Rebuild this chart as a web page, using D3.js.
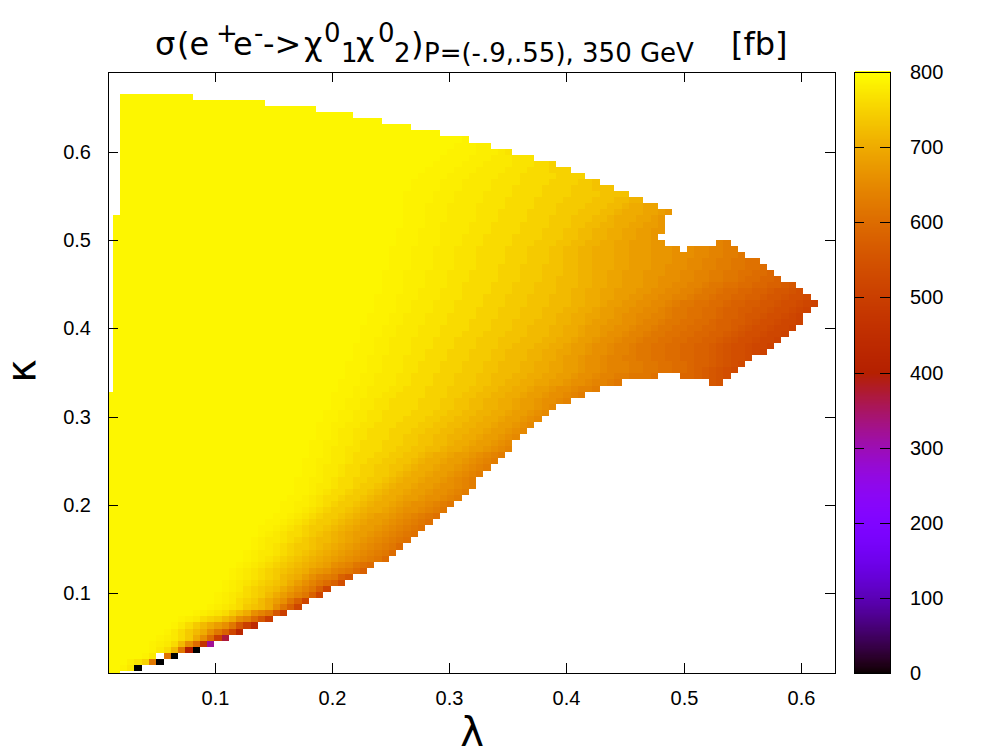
<!DOCTYPE html>
<html><head><meta charset="utf-8">
<script src="https://cdn.jsdelivr.net/npm/d3@7"></script>
<style>
html,body{margin:0;padding:0;background:#fff}
svg{display:block}
.tick text{font-family:"Liberation Sans",Arial,sans-serif;font-size:20px;fill:#000}
</style></head><body>
<svg id="c" width="1000" height="750"></svg>
<script>
// Grid
const lambdaStart = 0.01, lambdaStep = 0.0062;
const kappaStart = 0.0088, kappaStep = 0.006873;
const lambdaDomain = [0.01, 0.63];
const kappaDomain = [0.01, 0.69];
const lambdaTicks = [0.1, 0.2, 0.3, 0.4, 0.5, 0.6];
const kappaTicks = [0.1, 0.2, 0.3, 0.4, 0.5, 0.6];
const sigmaTicks = [0, 100, 200, 300, 400, 500, 600, 700, 800];
const sigmaDomain = [0, 800];

// Value bands of the cross section [fb]
const levels = [790,786,782,776,770,760,750,740,730,720,710,700,690,680,670,660,650,640,630,620,610,600,590,580,570,560,550,540,530,520,510,500,490];

// For each kappa row: first and last filled lambda column
const rowStarts = [0,0,0,0,0,0,0,0,0,0,0,0,0,0,0,0,0,0,0,0,0,0,0,0,0,0,0,0,0,0,0,0,0,0,0,0,0,0,0,0,0,0,0,0,0,0,0,
  1,1,1,1,1,1,1,1,1,1,1,1,1,1,1,1,1,1,1,1,1,1,1,1,1,1,1,1,1,
  2,2,2,2,2,2,2,2,2,2,2,2,2,2,2,2,2,2,2,2];
const rowEnds = [1,4,7,9,12,14,16,18,20,22,24,26,27,29,30,32,33,35,36,38,39,40,41,42,43,44,45,46,47,48,49,50,50,51,52,53,54,55,55,56,57,58,59,60,61,63,65,67,84,85,86,87,88,90,91,92,93,94,95,95,96,97,96,95,94,92,91,90,89,87,86,85,75,76,76,76,77,75,73,71,69,67,65,63,61,58,55,52,49,45,41,37,33,28,21,11];
// Empty stretches inside a row: [row, firstCol, lastCol]
const rowGaps = [[3,7,7],[48,71,82],[49,76,78],[70,79,79],[71,77,83]];

// For each row: last column that still reaches each value band, in band order
const rowBreaks = [
[99],
[1,2,2,3,3],
[2,2,3,3,4,4,5,5,5,5,5,5,5,5,5,5,5,5,5,6,6],
[4,5,5,6,6,6,6,6,6,6,6,6,6,6,6,6,6,6,6,7,8],
[5,6,6,7,7,8,8,8,8,9,9,9,9,9,9,9,9,9,9,10,10],
[5,6,7,8,8,9,9,9,9,10,10,10,10,10,10,11,11,11,11,11,11,12,12],
[6,7,8,9,9,10,10,11,11,11,11,12,12,12,12,13,13,13,13,13,13,14,14,14,14,14,14,14,14,14,14,15,15],
[7,8,8,9,9,10,10,11,11,12,12,13,13,13,13,14,14,14,14,15,15,15,15,16,16,16,16,16,16,17,17],
[8,9,9,10,10,11,11,12,12,13,13,14,14,15,15,16,16,16,16,17,17,17,17,17,17,18,18,18,18,18,18,19,19],
[9,10,11,12,12,13,14,15,15,16,16,17,17,17,17,18,18,19,19,19,19,20,20,20,20,21,21,21,21,21,21,22,22],
[11,12,13,14,15,16,16,17,17,18,18,19,19,19,19,20,20,21,21,22,22,22,22,22,22,23,23,23,23,23,23,24,24],
[13,14,15,16,17,18,18,19,20,21,21,22,22,22,22,23,23,23,23,24,24,24,24,25,25,25,25,25,25,26,26],
[14,15,16,17,17,18,19,20,20,21,21,22,22,23,23,24,24,24,24,25,25,25,25,26,26,26,26,26,26,27,27],
[14,15,16,17,18,19,20,21,21,22,22,23,23,24,24,25,25,26,26,27,27,27,27,28,28,28,28,28,28,29,29],
[15,16,17,18,18,19,20,21,22,23,23,24,24,25,25,26,26,27,27,28,28,28,28,29,29,29,29,29,29,30,30],
[15,16,17,18,19,20,21,22,23,24,24,25,25,26,26,27,27,28,28,29,29,30,30,31,31,31,31,32,32],
[16,17,18,19,20,21,22,23,23,24,25,26,26,27,27,28,28,29,30,31,31,31,31,32,32,33,33],
[16,17,18,19,20,21,22,23,24,25,26,27,27,28,29,30,30,31,32,33,33,34,34,35,35],
[17,18,19,20,21,22,23,24,25,26,27,28,29,30,30,31,32,33,33,34,35,36,36],
[18,19,20,21,22,23,24,25,26,27,28,29,30,31,32,33,34,35,36,37,37,38,38],
[18,19,20,22,23,24,25,26,27,28,29,30,31,32,33,34,35,36,37,38,38,39,39],
[19,20,21,22,23,24,25,27,28,29,30,31,32,33,34,35,36,37,38,39,39,40,40],
[19,20,21,23,24,25,26,27,28,30,31,32,33,34,35,36,37,38,39,40,41],
[20,21,22,23,24,26,27,28,29,30,31,32,33,35,36,37,38,39,40,41,42],
[20,22,23,24,25,26,27,29,30,31,32,33,34,36,37,38,39,40,41,42,43],
[21,23,24,25,26,27,28,30,31,32,33,34,35,37,38,39,40,41,42,43,44],
[22,24,25,26,27,28,29,31,32,33,34,35,36,38,39,40,41,42,43,44,45],
[23,25,26,27,28,29,30,32,33,34,35,37,38,39,40,42,43,44,45,46,46],
[23,25,27,28,29,30,31,33,34,35,36,38,39,40,41,43,44,45,46,47,47],
[24,26,27,28,29,31,32,34,35,36,37,39,40,42,43,45,46,47,48],
[25,27,28,29,30,32,33,35,36,37,38,40,41,43,44,46,47,48,49],
[25,27,28,30,31,33,34,36,37,38,39,41,42,44,45,47,48,49,50],
[25,27,29,30,31,33,35,37,38,39,40,42,43,45,46,47,48,49,50],
[26,28,29,31,32,34,36,38,39,40,41,43,44,46,47,48,49,50,51],
[26,28,29,31,32,34,36,38,40,41,42,44,45,47,48,49,50,51,52],
[26,28,30,32,33,35,37,39,41,42,43,45,46,48,49,50,51,52,53],
[27,29,30,32,33,36,38,40,42,43,44,46,47,49,50,51,52,53,54],
[27,29,30,32,34,37,39,41,43,45,46,48,49,51,52,53,54,55,55],
[27,29,31,33,34,37,40,42,44,46,47,49,50,52,53,54,55],
[28,30,31,33,35,38,40,42,44,46,48,50,51,53,54,55,56],
[28,30,31,33,35,38,41,43,45,47,49,51,52,54,55,56,57],
[28,30,32,34,36,39,42,44,46,48,50,52,53,55,56,57,58],
[29,31,33,35,37,40,43,45,47,49,51,53,54,56,57,58,59],
[29,31,33,35,37,41,44,46,48,50,52,54,55,57,58,59,60],
[30,32,34,36,38,42,45,47,49,51,53,55,56,58,59,60,61],
[30,32,34,36,38,42,45,47,49,51,53,55,56,58,59,61,62,63,63],
[30,33,35,37,39,43,46,48,50,52,54,56,57,59,60,62,63,64,65],
[31,33,35,38,40,43,46,49,51,53,55,57,58,60,61,63,64,66,67],
[31,34,36,39,41,44,47,50,52,54,56,58,60,62,63,65,66,68,69,73,76,78,80,81,82,83,84],
[32,34,36,39,41,44,47,50,52,55,57,59,61,63,64,66,67,69,71,74,76,78,80,81,82,83,84,85,85],
[32,35,37,40,42,45,48,51,53,56,58,60,62,64,65,67,68,71,73,75,77,79,80,81,82,83,84,85,86],
[32,35,37,40,42,45,48,51,53,56,58,60,62,64,65,67,68,71,73,75,77,79,80,82,83,84,85,86,87],
[33,35,37,40,43,46,49,52,54,57,59,61,62,64,65,67,68,70,72,74,76,78,80,82,83,84,85,87,88],
[33,36,38,41,43,46,49,52,54,57,59,61,63,65,66,68,69,71,72,74,76,78,80,82,83,84,85,87,88,89,90],
[33,36,38,41,44,47,50,53,55,58,60,62,63,65,66,68,69,71,72,74,76,78,80,82,83,84,85,87,88,90,91],
[34,36,38,41,44,47,50,53,56,59,61,63,64,66,67,69,70,72,73,75,77,79,81,83,84,85,86,88,89,91,92],
[34,37,39,42,45,48,51,54,57,60,62,64,65,67,68,70,71,73,74,76,78,80,82,84,85,86,87,89,90,92,93],
[34,37,39,42,45,49,52,55,57,60,62,64,65,67,69,71,72,74,75,77,79,81,83,85,86,87,88,90,91,93,94],
[35,38,40,43,46,49,52,55,58,61,63,65,66,68,70,72,73,75,76,78,80,82,83,85,87,88,89,91,92,94,95],
[35,38,40,43,46,50,53,56,59,61,63,65,67,69,70,72,74,76,77,79,81,83,84,86,87,89,90,92,93,94,95],
[36,39,41,44,47,50,53,56,59,62,64,66,67,69,71,73,75,76,77,79,81,83,84,86,88,90,91,93,94,95,96],
[36,39,41,44,47,51,54,57,60,63,65,67,68,70,72,74,76,77,78,80,82,84,85,87,89,91,92,94,95,96,97],
[36,39,42,45,48,51,54,57,60,63,65,67,69,71,73,75,77,79,80,82,83,85,87,89,90,92,93,95,96],
[37,40,42,45,48,52,55,58,61,63,65,67,69,72,74,76,78,80,81,83,84,86,88,90,91,93,94,95,95],
[37,40,43,46,48,52,55,58,61,64,66,68,70,73,75,77,79,81,82,84,86,88,90,92,93,94,94],
[37,40,43,46,49,53,56,59,61,64,66,68,70,73,75,78,80,82,84,86,87,89,91,92,92],
[37,40,43,46,49,53,56,59,62,64,66,68,70,73,76,78,80,82,84,86,88,90,91],
[38,41,44,47,50,53,56,59,62,64,66,69,71,74,76,79,81,83,85,87,89,90,90],
[38,41,44,47,50,54,57,60,62,64,66,69,71,74,77,79,81,83,85,87,89],
[38,41,44,47,50,54,57,60,62,64,66,69,71,74,77,80,82,84,86,87,87],
[38,41,44,47,50,54,57,60,62,64,66,69,71,74,77,80,82,84,86],
[39,42,45,48,51,55,58,61,63,65,67,69,71,74,77,80,83,84,85],
[39,42,45,48,51,55,59,62,64,66,68,70,72,74,75],
[39,42,45,49,52,56,59,62,64,66,68,70,72,74,76],
[40,43,45,49,52,56,60,63,65,67,69,71,73,75,76],
[40,43,46,50,53,57,60,63,66,68,69,72,74,75,76],
[40,43,46,50,53,57,61,64,67,69,70,73,75,76,77],
[40,43,46,50,54,58,61,65,68,70,71,73,75],
[40,44,47,51,54,58,62,66,69,71,73],
[40,44,47,51,55,59,63,67,71],
[41,45,48,52,55,59,63,66,69],
[41,45,48,52,56,60,64,66,67],
[42,46,49,53,56,61,65],
[43,47,50,54,57,60,63],
[44,48,51,55,58,60,61],
[45,49,52,55,58],
[46,50,53,54,55],
[47,50,52],
[48,49,49],
[99],[99],[99],[99],[99],[99],[99]
];

// Single low-value cells on the lower edge: [row, column, value]
const edgeCells = [[1,4,0],[2,7,0],[3,9,0],[4,12,0],[4,11,400],[5,13,470],[5,14,320],[6,16,370],[7,18,430],[8,20,440]];

const svg = d3.select("#c");
const frame = {left:108.5,right:835.5,top:72.5,bottom:673.5};
const x = d3.scaleLinear().domain(lambdaDomain).range([109,836]);
const y = d3.scaleLinear().domain(kappaDomain).range([673,72]);
const color = d3.scaleLinear().domain(sigmaDomain).range([0,1]);

// gnuplot's default pm3d palette (rgbformulae 7,5,15)
function palette(v){
  const t = Math.max(0,Math.min(1,color(v)));
  const r = Math.sqrt(t), g = t*t*t, b = Math.max(0,Math.sin(2*Math.PI*t));
  return d3.rgb(Math.round(r*255),Math.round(g*255),Math.round(b*255)).formatHex();
}

const cells = [];
rowEnds.forEach((end,j)=>{
  const br = rowBreaks[j];
  for(let i=rowStarts[j]; i<=end; i++){
    if(rowGaps.some(g=>g[0]===j && i>=g[1] && i<=g[2])) continue;
    let k = br.findIndex(b=>i<=b);
    if(k<0) k = br.length;
    let v = levels[Math.min(k,levels.length-1)];
    const over = edgeCells.find(c=>c[0]===j && c[1]===i);
    if(over) v = over[2];
    cells.push({lambda:lambdaStart+i*lambdaStep,kappa:kappaStart+j*kappaStep,v});
  }
});

svg.append("clipPath").attr("id","plotClip").append("rect")
  .attr("x",frame.left).attr("y",frame.top)
  .attr("width",frame.right-frame.left).attr("height",frame.bottom-frame.top);

svg.append("g").attr("clip-path","url(#plotClip)").attr("shape-rendering","crispEdges")
  .selectAll("rect").data(cells).join("rect")
  .attr("x",d=>Math.round(x(d.lambda-lambdaStep/2)))
  .attr("width",d=>Math.round(x(d.lambda+lambdaStep/2))-Math.round(x(d.lambda-lambdaStep/2)))
  .attr("y",d=>Math.round(y(d.kappa+kappaStep/2)))
  .attr("height",d=>Math.round(y(d.kappa-kappaStep/2))-Math.round(y(d.kappa+kappaStep/2)))
  .attr("fill",d=>palette(d.v));

// Axes
const xT = d3.scaleLinear().domain(lambdaDomain).rangeRound([109,836]);
const yT = d3.scaleLinear().domain(kappaDomain).rangeRound([673,72]);
const fmt = d3.format(".1f");
function style(g,labels){
  g.select(".domain").remove();
  g.selectAll(".tick line").attr("stroke","#000").attr("shape-rendering","crispEdges");
  if(!labels) g.selectAll(".tick text").remove();
}
svg.append("g").attr("transform",`translate(0,${frame.bottom-0.5})`)
  .call(d3.axisBottom(xT).tickValues(lambdaTicks).tickFormat(fmt).tickSizeInner(-10).tickPadding(18))
  .call(style,true);
svg.append("g").attr("transform",`translate(0,${frame.top-0.5})`)
  .call(d3.axisTop(xT).tickValues(lambdaTicks).tickSizeInner(-10))
  .call(style,false);
svg.append("g").attr("transform",`translate(${frame.left-0.5},0)`)
  .call(d3.axisLeft(yT).tickValues(kappaTicks).tickFormat(fmt).tickSizeInner(-10).tickPadding(17))
  .call(style,true);
svg.append("g").attr("transform",`translate(${frame.right-0.5},0)`)
  .call(d3.axisRight(yT).tickValues(kappaTicks).tickSizeInner(-10))
  .call(style,false);
svg.append("rect").attr("x",frame.left).attr("y",frame.top)
  .attr("width",frame.right-frame.left).attr("height",frame.bottom-frame.top)
  .attr("fill","none").attr("stroke","#000").attr("shape-rendering","crispEdges");

// Colour box
const cb = {left:854.5,right:890.5,top:72.5,bottom:673.5};
const cy = d3.scaleLinear().domain(sigmaDomain).range([673,72]);
const cyT = d3.scaleLinear().domain(sigmaDomain).rangeRound([673,72]);
svg.append("g").attr("shape-rendering","crispEdges")
  .selectAll("rect").data(d3.range(0,800,1.5)).join("rect")
  .attr("x",cb.left).attr("width",cb.right-cb.left)
  .attr("y",d=>Math.floor(cy(d+1.5))).attr("height",d=>Math.ceil(cy(d))-Math.floor(cy(d+1.5)))
  .attr("fill",d=>palette(d+0.75));
svg.append("g").attr("transform",`translate(${cb.left-0.5},0)`)
  .call(d3.axisRight(cyT).tickValues(sigmaTicks).tickSizeInner(10))
  .call(style,false);
svg.append("g").attr("transform",`translate(${cb.right-0.5},0)`)
  .call(d3.axisLeft(cyT).tickValues(sigmaTicks).tickSizeInner(10))
  .call(style,false);
svg.append("g").attr("transform",`translate(${cb.right-0.5},0)`)
  .call(d3.axisRight(cyT).tickValues(sigmaTicks).tickSize(0).tickPadding(20))
  .call(g=>g.select(".domain").remove());
svg.append("rect").attr("x",cb.left).attr("y",cb.top)
  .attr("width",cb.right-cb.left).attr("height",cb.bottom-cb.top)
  .attr("fill","none").attr("stroke","#000").attr("shape-rendering","crispEdges");

// Title, with its raised and lowered parts
const titleParts = [
 ["σ",155,55,32],["(e",177,55,32],["+",216,42,26],["e",233,55,32],["-",254,42,26],["->",263,55,32],
 ["χ",304,55,32],["0",324,42,26],["1",341,62,26],["χ",356,55,32],["0",378,42,26],["2",394,62,26],
 [")",411,55,32],["P=(-.9,.55), 350 GeV",424,62,26],["[fb]",731,55,32]
];
const title = svg.append("text").attr("font-family","'DejaVu Sans',sans-serif").attr("fill","#000");
title.selectAll("tspan").data(titleParts).join("tspan")
  .attr("x",d=>d[1]).attr("y",d=>d[2]).attr("font-size",d=>d[3]).text(d=>d[0]);

svg.append("text").attr("x",472).attr("y",746).attr("text-anchor","middle")
  .attr("font-family","'DejaVu Sans',sans-serif").attr("font-size",40).text("λ");
svg.append("text").attr("transform","translate(35,371) rotate(-90)").attr("text-anchor","middle")
  .attr("font-family","'DejaVu Sans',sans-serif").attr("font-size",40).text("κ");
</script>
</body></html>
